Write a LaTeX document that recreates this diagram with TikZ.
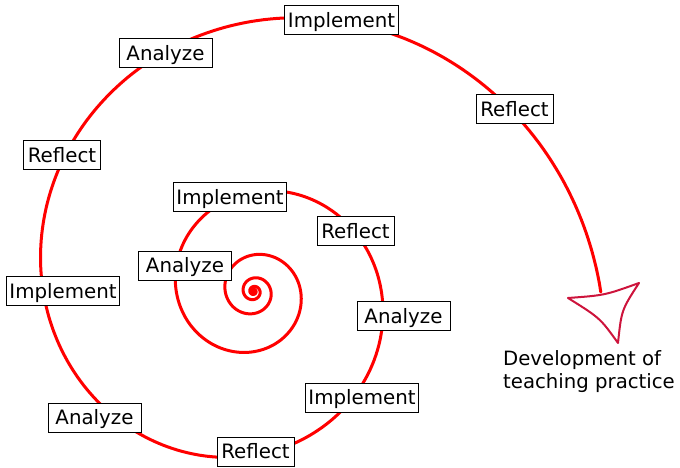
\documentclass[tikz,border=0pt]{standalone}
\usepackage{fontspec}
\setmainfont{DejaVu Sans}
\definecolor{arrowred}{RGB}{205,20,60}
\begin{document}
\begin{tikzpicture}[x=1pt,y=1pt,
  lbl/.style={draw=black, line width=1pt, fill=white, font=\fontsize{19.8}{23}\selectfont, text height=14pt, text depth=0pt, inner xsep=3pt, minimum height=29pt},
  impl/.style={lbl, minimum width=111pt},
  anal/.style={lbl, minimum width=93pt},
  refl/.style={lbl, minimum width=77pt},
  spiralline/.style={red, line width=3pt, line cap=round},
  tipline/.style={draw=arrowred, line width=2pt, line join=round, line cap=round},
  devtext/.style={anchor=base west, inner sep=0pt, align=left, font=\fontsize{19.7}{23}\selectfont}]
\useasboundingbox (0,0) rectangle (680,468);
\coordinate (c) at (253.7,176.6);
\draw[spiralline] plot[domain=36:-0.005, samples=1500, variable=\t]
  ({253.7+347*exp(-\t/6.2832)*cos(\t r)}, {176.6+347*exp(-\t/6.2832)*sin(\t r)});
% arrowhead
\coordinate (tT) at (618,125);
\coordinate (tL) at (568,170);
\coordinate (tR) at (639,185);
\coordinate (cLR) at (604.8,172.7);
\coordinate (cRT) at (621.5,158);
\coordinate (cTL) at (600,150);
\draw[tipline] (tL) .. controls (cLR) .. (tR) .. controls (cRT) .. (tT) .. controls (cTL) .. (tL);
% labels
\node[refl] (r1) at (514.5,358.5) {Reflect};
\node[impl] (i1) at (341.5,447.5) {Implement};
\node[anal] (a1) at (165.5,414.5) {Analyze};
\node[refl] (r2) at (62,312.5) {Reflect};
\node[impl] (i2) at (63,176.5) {Implement};
\node[anal] (a2) at (94.5,50) {Analyze};
\node[refl] (r3) at (255.5,16) {Reflect};
\node[impl] (i3) at (362,70) {Implement};
\node[anal] (a3) at (403.5,151.5) {Analyze};
\node[refl] (r4) at (355.5,236.5) {Reflect};
\node[impl] (i4) at (230,270.5) {Implement};
\node[anal] (a4) at (185,202) {Analyze};
\node[devtext] (dev) at (503,79) {Development of\\teaching practice};
\end{tikzpicture}
\end{document}
